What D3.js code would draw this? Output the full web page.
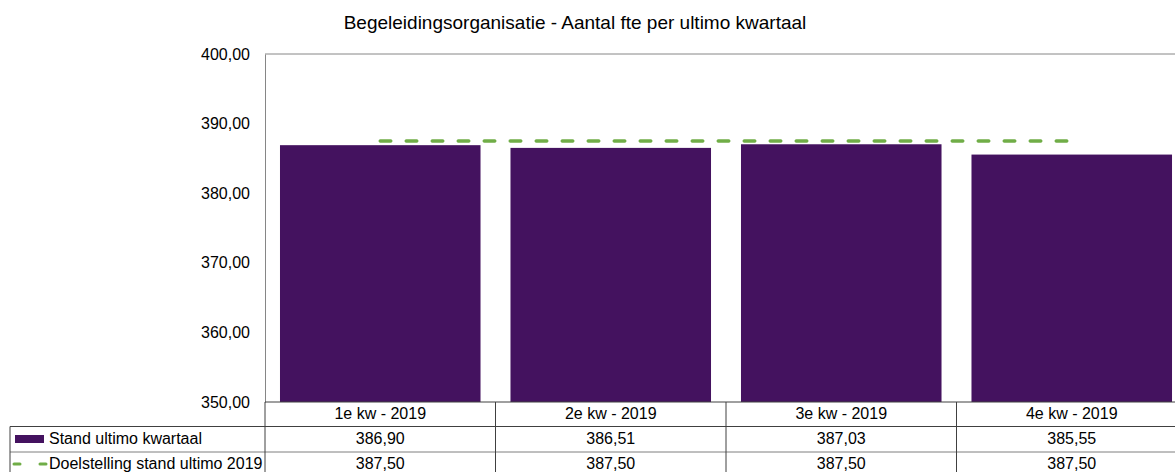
<!DOCTYPE html>
<html>
<head>
<meta charset="utf-8">
<script src="https://cdn.jsdelivr.net/npm/d3@7"></script>
<style>
  body { margin: 0; background: #fff; }
  svg { display: block; font-family: "Liberation Sans", Arial, sans-serif; }
</style>
</head>
<body>
<div id="chart"></div>
<script>
// chart data
const quarters = ['1e kw - 2019', '2e kw - 2019', '3e kw - 2019', '4e kw - 2019'];
const stand = [386.90, 386.51, 387.03, 385.55];
const doel = [387.50, 387.50, 387.50, 387.50];
const yTicks = [350, 360, 370, 380, 390, 400];
const seriesNames = ['Stand ultimo kwartaal', 'Doelstelling stand ultimo 2019'];

const width = 1175;
const height = 472;
const margin = { top: 54, left: 265, right: -12, bottom: 70 };
const rowH = 25;
const fmt = v => d3.format('.2f')(v).replace('.', ',');

const svg = d3.select('#chart')
  .append('svg')
  .attr('width', width)
  .attr('height', height);

const x = d3.scaleBand()
  .domain(quarters)
  .range([margin.left, width - margin.right])
  .paddingInner(0.13)
  .paddingOuter(0.065);

const y = d3.scaleLinear()
  .domain([350, 400])
  .range([height - margin.bottom, margin.top]);

const plotBottom = y(350);
const plotRight = width - margin.right;

// title
svg.append('text')
  .attr('x', 575)
  .attr('y', 29)
  .attr('text-anchor', 'middle')
  .attr('font-size', '19px')
  .attr('fill', '#000')
  .text('Begeleidingsorganisatie - Aantal fte per ultimo kwartaal');

// plot border top
svg.append('line')
  .attr('x1', margin.left).attr('x2', plotRight)
  .attr('y1', y(400)).attr('y2', y(400))
  .attr('stroke', '#868686');

// bars
svg.append('g')
  .selectAll('rect')
  .data(stand)
  .join('rect')
    .attr('x', (d, i) => x(quarters[i]))
    .attr('y', d => y(d))
    .attr('width', x.bandwidth())
    .attr('height', d => y(350) - y(d))
    .attr('fill', '#44125f');

// target line
const line = d3.line()
  .x((d, i) => x(quarters[i]) + x.bandwidth() / 2)
  .y(d => y(d));

svg.append('path')
  .datum(doel)
  .attr('d', line)
  .attr('fill', 'none')
  .attr('stroke', '#70ad47')
  .attr('stroke-width', 3.5)
  .attr('stroke-linecap', 'round')
  .attr('stroke-dasharray', '10.5,15.5');

// y axis
svg.append('g')
  .attr('transform', `translate(${margin.left},0)`)
  .call(d3.axisLeft(y).tickValues(yTicks).tickSize(0).tickPadding(15).tickFormat(fmt))
  .call(g => g.select('.domain').attr('stroke', '#868686'))
  .call(g => g.selectAll('text').attr('font-size', '16px').attr('fill', '#000').attr('font-family', '"Liberation Sans", Arial, sans-serif'));

// data table
const table = svg.append('g').attr('stroke', '#404040').attr('stroke-width', 1);
// horizontal lines
table.append('line').attr('x1', margin.left).attr('x2', plotRight).attr('y1', plotBottom).attr('y2', plotBottom);
table.append('line').attr('x1', 10).attr('x2', plotRight).attr('y1', plotBottom + rowH - 0.5).attr('y2', plotBottom + rowH - 0.5);
table.append('line').attr('x1', 10).attr('x2', plotRight).attr('y1', plotBottom + 2 * rowH).attr('y2', plotBottom + 2 * rowH).attr('stroke', '#7f7f7f');
// vertical lines
table.append('line').attr('x1', 10).attr('x2', 10).attr('y1', plotBottom + rowH - 0.5).attr('y2', height);
const bounds = quarters.map(q => x(q) - x.step() * x.paddingInner() / 2);
table.selectAll('.vl')
  .data(bounds)
  .join('line')
    .attr('class', 'vl')
    .attr('x1', d => d).attr('x2', d => d)
    .attr('y1', plotBottom).attr('y2', height);

// table text
const cellText = (vals, row, f) => svg.append('g')
  .selectAll('text')
  .data(vals)
  .join('text')
    .attr('x', (d, i) => x(quarters[i]) + x.bandwidth() / 2)
    .attr('y', plotBottom + row * rowH + 17)
    .attr('text-anchor', 'middle')
    .attr('font-size', '16px')
    .attr('fill', '#000')
    .text(f);

cellText(quarters, 0, d => d);
cellText(stand, 1, fmt);
cellText(doel, 2, fmt);

// legend keys in table
svg.append('rect')
  .attr('x', 15).attr('y', plotBottom + rowH + 8)
  .attr('width', 29).attr('height', 8)
  .attr('fill', '#44125f');

svg.append('line')
  .attr('x1', 14).attr('x2', 46)
  .attr('y1', plotBottom + 2 * rowH + 12).attr('y2', plotBottom + 2 * rowH + 12)
  .attr('stroke', '#70ad47')
  .attr('stroke-width', 3)
  .attr('stroke-linecap', 'round')
  .attr('stroke-dasharray', '6,20');

svg.append('g')
  .selectAll('text')
  .data(seriesNames)
  .join('text')
    .attr('x', 49)
    .attr('y', (d, i) => plotBottom + (i + 1) * rowH + 17)
    .attr('font-size', '16px')
    .attr('fill', '#000')
    .text(d => d);
</script>
</body>
</html>
